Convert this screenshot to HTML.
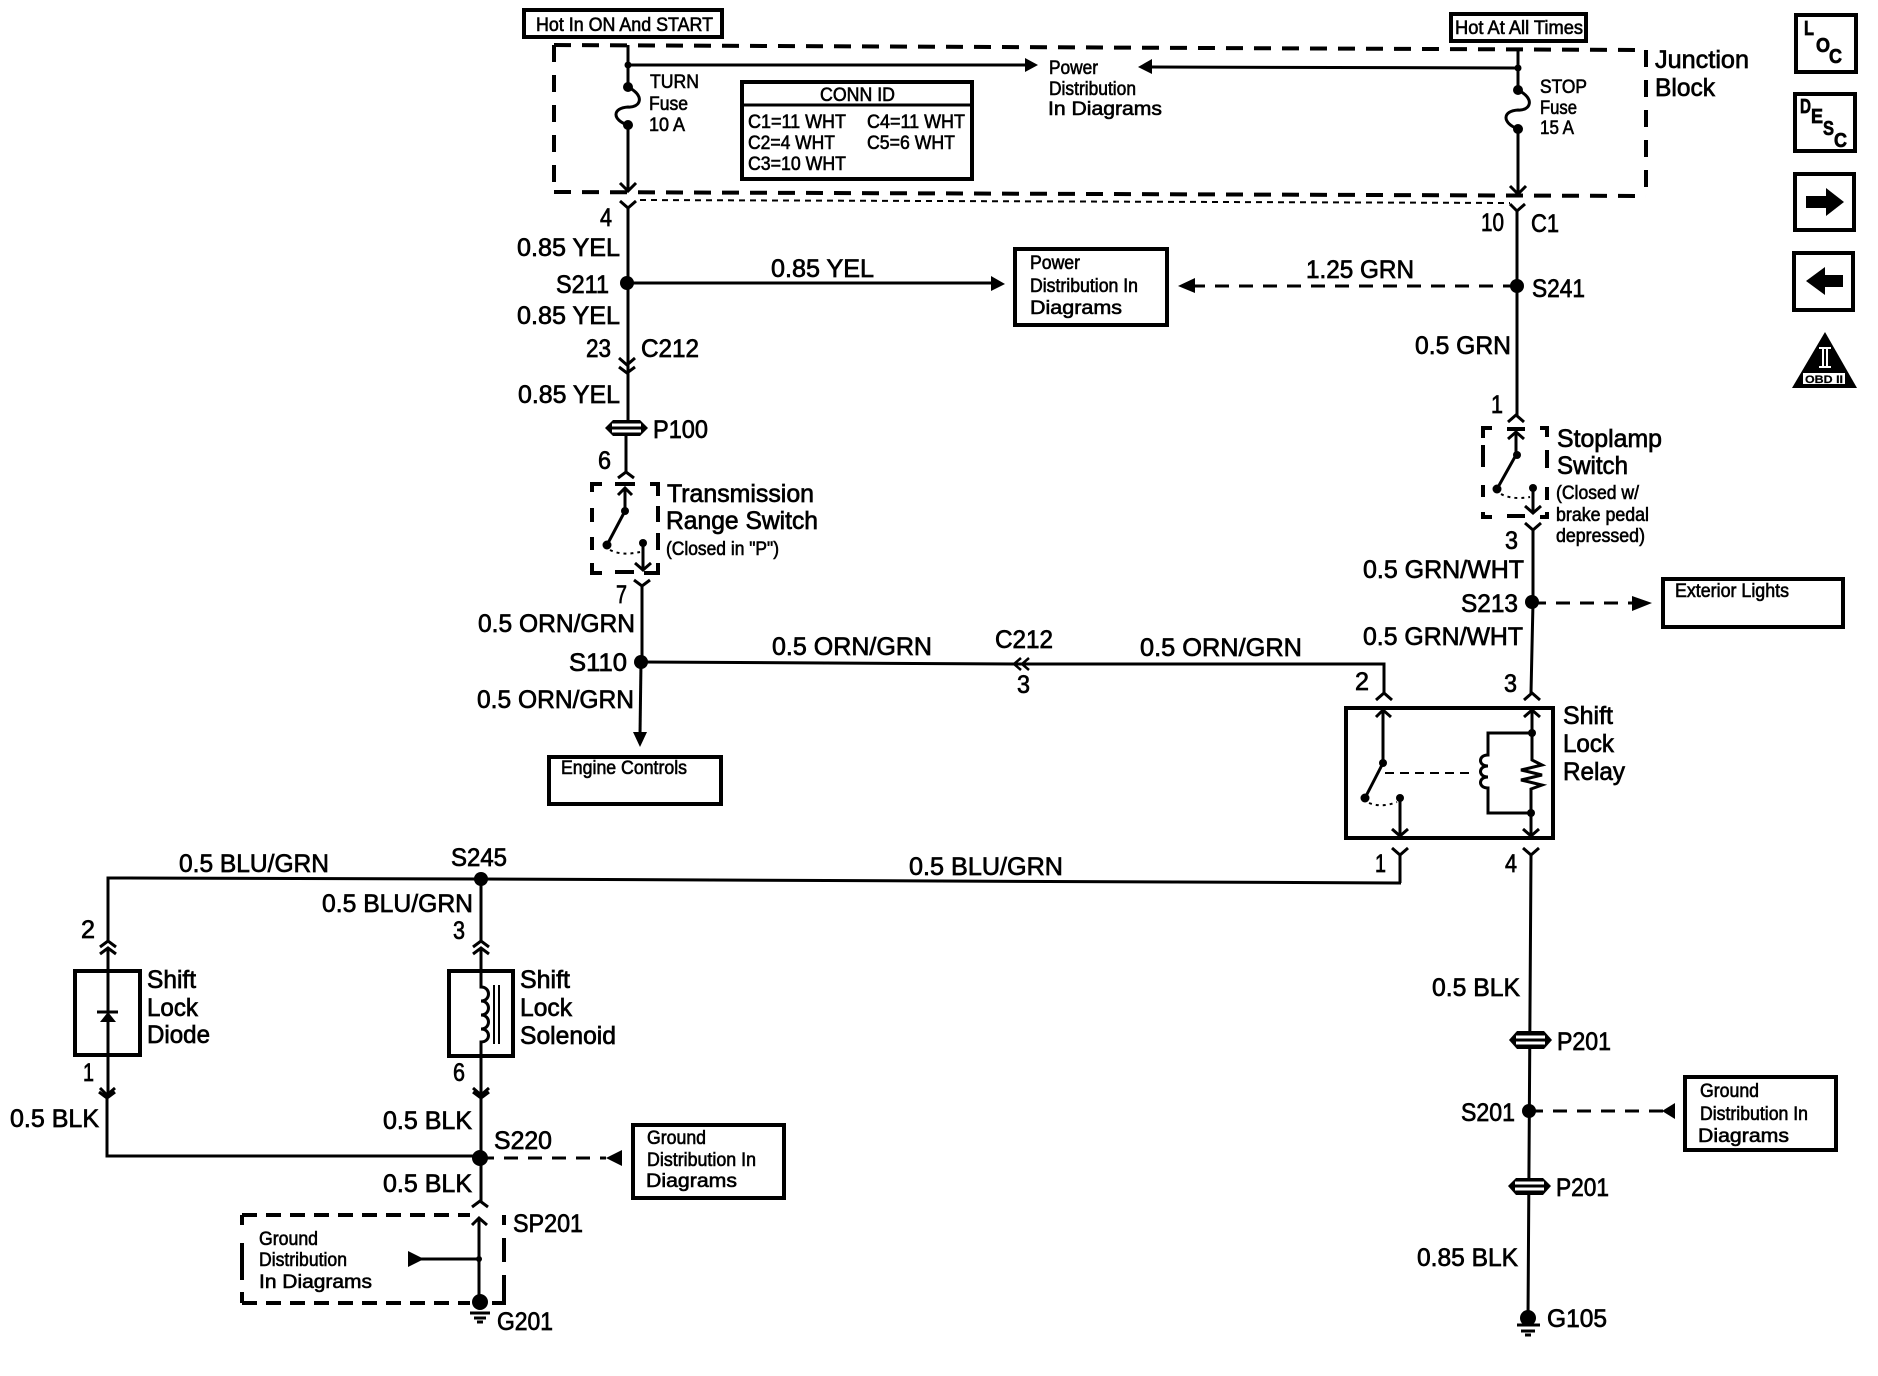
<!DOCTYPE html>
<html><head><meta charset="utf-8"><title>Shift Lock Wiring Diagram</title>
<style>
html,body{margin:0;padding:0;background:#fff}
svg{display:block}
text{font-family:"Liberation Sans",sans-serif;fill:#000;stroke:#000;stroke-width:.7}
.a{font-size:25px}.b{font-size:19px;stroke-width:.6}.c{font-size:20px;font-weight:bold}
.w{fill:none;stroke:#000;stroke-width:3}
.bx{fill:#fff;stroke:#000;stroke-width:4}
.d{fill:none;stroke:#000;stroke-width:4}
.k{fill:#000;stroke:none}
</style></head><body>
<svg xmlns="http://www.w3.org/2000/svg" width="1878" height="1376" viewBox="0 0 1878 1376">
<rect width="1878" height="1376" fill="#fff"/>

<!-- Junction block -->
<path class="d" stroke-dasharray="17 11" d="M554,45 L1646,50"/>
<path class="d" stroke-dasharray="17 11" d="M554,192 L1646,196"/>
<path class="d" stroke-dasharray="17 13" d="M554,45 V192"/>
<path class="d" stroke-dasharray="17 13" d="M1646,50 V196"/>
<path class="w" style="stroke-width:2" stroke-dasharray="6 5" d="M640,200 L1510,203"/>

<!-- Top boxes -->
<rect class="bx" x="524" y="10" width="198" height="27"/>
<text class="b" x="536" y="31" textLength="177" lengthAdjust="spacingAndGlyphs">Hot In ON And START</text>
<rect class="bx" x="1451" y="14" width="135" height="27"/>
<text class="b" x="1455" y="34" textLength="128" lengthAdjust="spacingAndGlyphs">Hot At All Times</text>

<!-- Fuses/wires -->
<path class="w" d="M628,45 V87 C646,96 640,108 628,107 C612,108 612,120 628,125 V190"/>
<path class="w" d="M628,65 H1028"/>
<polygon class="k" points="1025,58 1038,65 1025,72"/>
<circle class="k" cx="628" cy="65" r="3.5"/><circle class="k" cx="628" cy="87" r="5"/><circle class="k" cx="628" cy="125" r="5"/>
<path class="w" d="M620,183 L628,191 L636,183"/>
<path class="w" d="M620,201 L628,208 L636,201 M628,208 V420"/>
<path class="w" d="M1518,48 V90 C1536,99 1530,111 1518,110 C1502,111 1502,123 1518,129 V192"/>
<path class="w" d="M1518,68 L1150,67"/>
<polygon class="k" points="1152,59 1138,67 1152,74"/>
<circle class="k" cx="1518" cy="68" r="3.5"/><circle class="k" cx="1518" cy="90" r="5"/><circle class="k" cx="1518" cy="129" r="5"/>
<path class="w" d="M1510,186 L1518,194 L1526,186"/>
<path class="w" d="M1510,204 L1517,211 L1525,204 M1517,211 V416"/>

<text class="b" x="650" y="88" textLength="49" lengthAdjust="spacingAndGlyphs">TURN</text>
<text class="b" x="649" y="110" textLength="39" lengthAdjust="spacingAndGlyphs">Fuse</text>
<text class="b" x="649" y="131" textLength="36" lengthAdjust="spacingAndGlyphs">10 A</text>
<text class="b" x="1540" y="93" textLength="47" lengthAdjust="spacingAndGlyphs">STOP</text>
<text class="b" x="1540" y="114" textLength="37" lengthAdjust="spacingAndGlyphs">Fuse</text>
<text class="b" x="1540" y="134" textLength="34" lengthAdjust="spacingAndGlyphs">15 A</text>
<text class="b" x="1049" y="74" textLength="49" lengthAdjust="spacingAndGlyphs">Power</text>
<text class="b" x="1049" y="95" textLength="87" lengthAdjust="spacingAndGlyphs">Distribution</text>
<text class="b" x="1048" y="115" textLength="114" lengthAdjust="spacingAndGlyphs">In Diagrams</text>
<text class="a" x="1655" y="68" textLength="94" lengthAdjust="spacingAndGlyphs">Junction</text>
<text class="a" x="1655" y="96" textLength="60" lengthAdjust="spacingAndGlyphs">Block</text>

<!-- CONN ID -->
<rect class="bx" x="742" y="82" width="230" height="97"/>
<path class="w" d="M742,105 H972"/>
<text class="b" x="820" y="101" textLength="75" lengthAdjust="spacingAndGlyphs">CONN ID</text>
<text class="b" x="748" y="128" textLength="98" lengthAdjust="spacingAndGlyphs">C1=11 WHT</text>
<text class="b" x="867" y="128" textLength="98" lengthAdjust="spacingAndGlyphs">C4=11 WHT</text>
<text class="b" x="748" y="149" textLength="87" lengthAdjust="spacingAndGlyphs">C2=4 WHT</text>
<text class="b" x="867" y="149" textLength="88" lengthAdjust="spacingAndGlyphs">C5=6 WHT</text>
<text class="b" x="748" y="170" textLength="98" lengthAdjust="spacingAndGlyphs">C3=10 WHT</text>

<!-- Right icons -->
<rect class="bx" x="1796" y="15" width="60" height="57"/>
<text class="c" x="1804" y="35" textLength="10" lengthAdjust="spacingAndGlyphs">L</text>
<text class="c" x="1816" y="52" textLength="14" lengthAdjust="spacingAndGlyphs">O</text>
<text class="c" x="1829" y="63" textLength="13" lengthAdjust="spacingAndGlyphs">C</text>
<rect class="bx" x="1795" y="94" width="60" height="57"/>
<text class="c" x="1800" y="113" textLength="11" lengthAdjust="spacingAndGlyphs">D</text>
<text class="c" x="1811" y="123" textLength="12" lengthAdjust="spacingAndGlyphs">E</text>
<text class="c" x="1823" y="135" textLength="11" lengthAdjust="spacingAndGlyphs">S</text>
<text class="c" x="1834" y="147" textLength="13" lengthAdjust="spacingAndGlyphs">C</text>
<rect class="bx" x="1795" y="174" width="59" height="56"/>
<polygon class="k" points="1806,196 1826,196 1826,188 1844,202 1826,216 1826,208 1806,208"/>
<rect class="bx" x="1794" y="253" width="59" height="57"/>
<polygon class="k" points="1843,275 1825,275 1825,267 1806,281 1825,295 1825,287 1843,287"/>
<polygon class="k" points="1825,332 1857,388 1792,388"/>
<path d="M1819,348 H1831 M1819,367 H1831 M1823,348 V367 M1827,348 V367" stroke="#fff" stroke-width="2" fill="none"/>
<rect x="1803" y="373" width="42" height="11" fill="#fff"/>
<text x="1805" y="383" font-size="11" font-weight="bold" textLength="38" lengthAdjust="spacingAndGlyphs" style="stroke-width:.2">OBD II</text>

<!-- Left column labels -->
<text class="a" x="600" y="226" textLength="12" lengthAdjust="spacingAndGlyphs">4</text>
<text class="a" x="517" y="256" textLength="103" lengthAdjust="spacingAndGlyphs">0.85 YEL</text>
<text class="a" x="556" y="293" textLength="53" lengthAdjust="spacingAndGlyphs">S211</text>
<text class="a" x="517" y="324" textLength="103" lengthAdjust="spacingAndGlyphs">0.85 YEL</text>
<text class="a" x="771" y="277" textLength="103" lengthAdjust="spacingAndGlyphs">0.85 YEL</text>
<circle class="k" cx="627" cy="283" r="7"/>
<path class="w" d="M627,283 H995"/>
<polygon class="k" points="991,276 1005,284 991,291"/>

<rect class="bx" x="1015" y="249" width="152" height="76"/>
<text class="b" x="1030" y="269" textLength="50" lengthAdjust="spacingAndGlyphs">Power</text>
<text class="b" x="1030" y="292" textLength="108" lengthAdjust="spacingAndGlyphs">Distribution In</text>
<text class="b" x="1030" y="314" textLength="92" lengthAdjust="spacingAndGlyphs">Diagrams</text>

<path class="w" stroke-dasharray="14 10" d="M1517,286 H1190"/>
<polygon class="k" points="1195,278 1178,286 1195,293"/>
<text class="a" x="1306" y="278" textLength="108" lengthAdjust="spacingAndGlyphs">1.25 GRN</text>
<circle class="k" cx="1517" cy="286" r="7"/>
<text class="a" x="1481" y="231" textLength="23" lengthAdjust="spacingAndGlyphs">10</text>
<text class="a" x="1531" y="232" textLength="28" lengthAdjust="spacingAndGlyphs">C1</text>
<text class="a" x="1532" y="297" textLength="53" lengthAdjust="spacingAndGlyphs">S241</text>
<text class="a" x="1415" y="354" textLength="96" lengthAdjust="spacingAndGlyphs">0.5 GRN</text>
<text class="a" x="1491" y="413" textLength="12" lengthAdjust="spacingAndGlyphs">1</text>

<!-- C212 / P100 -->
<text class="a" x="586" y="357" textLength="25" lengthAdjust="spacingAndGlyphs">23</text>
<text class="a" x="641" y="357" textLength="58" lengthAdjust="spacingAndGlyphs">C212</text>
<path class="w" d="M619,358 L627,365 L635,358 M619,367 L627,373 L635,367"/>
<text class="a" x="518" y="403" textLength="102" lengthAdjust="spacingAndGlyphs">0.85 YEL</text>
<path class="k" d="M605,428 L613,420 H640 L648,428 L640,436 H613 Z"/>
<rect x="612" y="423.5" width="29" height="3" fill="#fff"/><rect x="612" y="429.5" width="29" height="3" fill="#fff"/>
<text class="a" x="653" y="438" textLength="55" lengthAdjust="spacingAndGlyphs">P100</text>
<text class="a" x="598" y="469" textLength="13" lengthAdjust="spacingAndGlyphs">6</text>

<!-- Transmission range switch -->
<path class="w" d="M626,436 V472 M618,478 L626,472 L634,478"/>
<path class="d" d="M592,492 V484 H602 M650,484 H658 V496 M592,508 V522 M592,537 V550 M592,563 V573 H602 M658,506 V522 M658,533 V550 M658,563 V573 H644 M615,572 H634"/>
<path class="d" d="M615,484 H635"/>
<path class="w" d="M618,495 L625,488 L632,495 M625,488 V511 L607,545"/>
<circle class="k" cx="625" cy="511" r="4"/><circle class="k" cx="607" cy="545" r="4.5"/><circle class="k" cx="643" cy="543" r="4"/>
<path class="w" style="stroke-width:2" stroke-dasharray="3 4" d="M610,550 Q622,556 640,552"/>
<path class="w" d="M643,543 V570 M635,563 L643,570 L651,563"/>
<path class="w" d="M634,580 L642,586 L650,580 M642,586 V662"/>
<text class="a" x="667" y="502" textLength="147" lengthAdjust="spacingAndGlyphs">Transmission</text>
<text class="a" x="666" y="529" textLength="152" lengthAdjust="spacingAndGlyphs">Range Switch</text>
<text class="b" x="666" y="555" textLength="113" lengthAdjust="spacingAndGlyphs">(Closed in "P")</text>
<text class="a" x="616" y="603" textLength="11" lengthAdjust="spacingAndGlyphs">7</text>
<text class="a" x="478" y="632" textLength="157" lengthAdjust="spacingAndGlyphs">0.5 ORN/GRN</text>
<text class="a" x="569" y="671" textLength="58" lengthAdjust="spacingAndGlyphs">S110</text>
<circle class="k" cx="641" cy="662" r="7"/>
<text class="a" x="477" y="708" textLength="157" lengthAdjust="spacingAndGlyphs">0.5 ORN/GRN</text>
<path class="w" d="M641,662 L640,735"/>
<polygon class="k" points="633,732 647,732 640,747"/>
<rect class="bx" x="549" y="757" width="172" height="47"/>
<text class="b" x="561" y="774" textLength="126" lengthAdjust="spacingAndGlyphs">Engine Controls</text>

<!-- ORN/GRN horizontal -->
<path class="w" d="M641,662 L1015,664 M1015,664 L1384,664 V693"/>
<path fill="none" stroke="#000" stroke-width="2.5" d="M1021,658 L1014,664 L1021,670 M1029,658 L1022,664 L1029,670"/>
<text class="a" x="772" y="655" textLength="160" lengthAdjust="spacingAndGlyphs">0.5 ORN/GRN</text>
<text class="a" x="995" y="648" textLength="58" lengthAdjust="spacingAndGlyphs">C212</text>
<text class="a" x="1017" y="693" textLength="13" lengthAdjust="spacingAndGlyphs">3</text>
<text class="a" x="1146" y="656" textLength="162" lengthAdjust="spacingAndGlyphs" transform="translate(-6,0)">0.5 ORN/GRN</text>

<!-- Stoplamp switch -->
<path class="w" d="M1508,422 L1516,415 L1524,422"/>
<path class="d" d="M1483,438 V428 H1492 M1540,428 H1547 V437 M1483,445 V467 M1483,485 V497 M1483,512 V517 H1492 M1547,450 V468 M1547,487 V500 M1547,512 V517 H1540 M1507,516 H1525"/>
<path class="d" d="M1507,429 H1525"/>
<path class="w" d="M1508,439 L1516,432 L1524,439 M1516,432 V455 L1497,489"/>
<circle class="k" cx="1517" cy="455" r="4"/><circle class="k" cx="1497" cy="489" r="4.5"/><circle class="k" cx="1533" cy="488" r="4"/>
<path class="w" style="stroke-width:2" stroke-dasharray="3 4" d="M1501,494 Q1512,500 1530,497"/>
<path class="w" d="M1533,488 V513 M1525,506 L1533,513 L1541,506"/>
<path class="w" d="M1525,523 L1533,530 L1541,523 M1533,530 V602 L1531,693"/>
<text class="a" x="1557" y="447" textLength="105" lengthAdjust="spacingAndGlyphs">Stoplamp</text>
<text class="a" x="1557" y="474" textLength="71" lengthAdjust="spacingAndGlyphs">Switch</text>
<text class="b" x="1556" y="499" textLength="83" lengthAdjust="spacingAndGlyphs">(Closed w/</text>
<text class="b" x="1556" y="521" textLength="93" lengthAdjust="spacingAndGlyphs">brake pedal</text>
<text class="b" x="1556" y="542" textLength="89" lengthAdjust="spacingAndGlyphs">depressed)</text>
<text class="a" x="1505" y="549" textLength="13" lengthAdjust="spacingAndGlyphs">3</text>
<text class="a" x="1363" y="578" textLength="161" lengthAdjust="spacingAndGlyphs">0.5 GRN/WHT</text>
<text class="a" x="1461" y="612" textLength="57" lengthAdjust="spacingAndGlyphs">S213</text>
<circle class="k" cx="1532" cy="602" r="7"/>
<path class="w" stroke-dasharray="14 10" d="M1532,603 H1632"/>
<polygon class="k" points="1632,596 1652,603 1632,611"/>
<rect class="bx" x="1663" y="579" width="180" height="48"/>
<text class="b" x="1675" y="597" textLength="114" lengthAdjust="spacingAndGlyphs">Exterior Lights</text>
<text class="a" x="1363" y="645" textLength="160" lengthAdjust="spacingAndGlyphs">0.5 GRN/WHT</text>
<text class="a" x="1355" y="690" textLength="14" lengthAdjust="spacingAndGlyphs">2</text>
<text class="a" x="1504" y="692" textLength="13" lengthAdjust="spacingAndGlyphs">3</text>

<!-- Relay -->
<rect x="1346" y="708" width="207" height="130" fill="#fff" stroke="#000" stroke-width="4"/>
<path class="w" d="M1376,700 L1384,693 L1392,700 M1524,700 L1532,693 L1540,700"/>
<path class="w" d="M1376,717 L1383,710 L1391,717 M1383,710 V763 L1365,798"/>
<circle class="k" cx="1383" cy="763" r="4"/><circle class="k" cx="1365" cy="798" r="4.5"/><circle class="k" cx="1400" cy="798" r="4"/>
<path class="w" style="stroke-width:2" stroke-dasharray="3 4" d="M1369,803 Q1382,808 1397,802"/>
<path class="w" d="M1400,798 V836 M1392,829 L1400,836 L1408,829"/>
<path class="w" d="M1524,717 L1532,710 L1540,717 M1532,710 V760 L1542,765 L1521,770 L1542,775 L1521,780 L1542,785 L1531,789 V836 M1523,829 L1531,836 L1539,829"/>
<path class="w" d="M1532,733 H1488 V755 C1478,755 1478,766 1488,766 C1478,766 1478,777 1488,777 C1478,777 1478,788 1488,788 V813 H1531"/>
<circle class="k" cx="1532" cy="733" r="4"/><circle class="k" cx="1531" cy="813" r="4"/>
<path class="w" style="stroke-width:2" stroke-dasharray="9 6" d="M1385,773 H1473"/>
<text class="a" x="1563" y="724" textLength="50" lengthAdjust="spacingAndGlyphs">Shift</text>
<text class="a" x="1563" y="752" textLength="51" lengthAdjust="spacingAndGlyphs">Lock</text>
<text class="a" x="1563" y="780" textLength="62" lengthAdjust="spacingAndGlyphs">Relay</text>
<path class="w" d="M1392,848 L1400,855 L1408,848 M1400,855 V883 M1523,848 L1531,855 L1539,848 M1531,855 L1528,1318"/>
<text class="a" x="1375" y="872" textLength="11" lengthAdjust="spacingAndGlyphs">1</text>
<text class="a" x="1505" y="872" textLength="12" lengthAdjust="spacingAndGlyphs">4</text>

<!-- BLU/GRN -->
<path class="w" d="M1401,883 L480,879 L108,878 V942"/>
<text class="a" x="179" y="872" textLength="150" lengthAdjust="spacingAndGlyphs">0.5 BLU/GRN</text>
<text class="a" x="451" y="866" textLength="56" lengthAdjust="spacingAndGlyphs">S245</text>
<text class="a" x="909" y="875" textLength="154" lengthAdjust="spacingAndGlyphs">0.5 BLU/GRN</text>
<text class="a" x="322" y="912" textLength="151" lengthAdjust="spacingAndGlyphs">0.5 BLU/GRN</text>
<circle class="k" cx="481" cy="879" r="7"/>
<path class="w" d="M481,879 V942"/>
<text class="a" x="81" y="938" textLength="14" lengthAdjust="spacingAndGlyphs">2</text>
<text class="a" x="453" y="939" textLength="12" lengthAdjust="spacingAndGlyphs">3</text>
<path class="w" d="M100,947 L108,941 L116,947 M100,954 L108,948 L116,954"/>
<path class="w" d="M473,947 L481,941 L489,947 M473,954 L481,948 L489,954"/>

<!-- Diode -->
<rect x="75" y="971" width="65" height="84" fill="#fff" stroke="#000" stroke-width="4"/>
<path class="w" d="M108,948 V1095"/>
<path class="w" d="M97,1012 H118"/>
<polygon class="k" points="108,1012 100,1022 116,1022"/>
<path class="w" d="M100,1088 L107,1095 L115,1088 M99,1092 L107,1098 L115,1092"/>
<text class="a" x="147" y="988" textLength="49" lengthAdjust="spacingAndGlyphs">Shift</text>
<text class="a" x="147" y="1016" textLength="51" lengthAdjust="spacingAndGlyphs">Lock</text>
<text class="a" x="147" y="1043" textLength="63" lengthAdjust="spacingAndGlyphs">Diode</text>
<text class="a" x="83" y="1081" textLength="11" lengthAdjust="spacingAndGlyphs">1</text>
<text class="a" x="10" y="1127" textLength="89" lengthAdjust="spacingAndGlyphs">0.5 BLK</text>

<!-- Solenoid -->
<rect x="449" y="971" width="64" height="85" fill="#fff" stroke="#000" stroke-width="4"/>
<path class="w" d="M481,948 V987 C491,987 491,1001 481,1001 C491,1001 491,1015 481,1015 C491,1015 491,1029 481,1029 C491,1029 491,1042 481,1042 V1095"/>
<path fill="none" stroke="#000" stroke-width="2" d="M494,985 V1044 M499,985 V1044"/>
<path class="w" d="M473,1088 L481,1095 L489,1088 M473,1092 L481,1098 L489,1092"/>
<text class="a" x="520" y="988" textLength="50" lengthAdjust="spacingAndGlyphs">Shift</text>
<text class="a" x="520" y="1016" textLength="52" lengthAdjust="spacingAndGlyphs">Lock</text>
<text class="a" x="520" y="1044" textLength="96" lengthAdjust="spacingAndGlyphs">Solenoid</text>
<text class="a" x="453" y="1081" textLength="12" lengthAdjust="spacingAndGlyphs">6</text>
<text class="a" x="383" y="1129" textLength="89" lengthAdjust="spacingAndGlyphs">0.5 BLK</text>
<text class="a" x="383" y="1192" textLength="89" lengthAdjust="spacingAndGlyphs">0.5 BLK</text>
<text class="a" x="494" y="1149" textLength="58" lengthAdjust="spacingAndGlyphs">S220</text>
<path class="w" d="M107,1098 V1156 H480 M481,1098 V1201"/>
<circle class="k" cx="480" cy="1158" r="8"/>
<path class="w" stroke-dasharray="14 10" d="M480,1158 H606"/>
<polygon class="k" points="622,1150 622,1166 606,1158"/>
<rect class="bx" x="633" y="1125" width="151" height="73"/>
<text class="b" x="647" y="1144" textLength="59" lengthAdjust="spacingAndGlyphs">Ground</text>
<text class="b" x="647" y="1166" textLength="109" lengthAdjust="spacingAndGlyphs">Distribution In</text>
<text class="b" x="646" y="1187" textLength="91" lengthAdjust="spacingAndGlyphs">Diagrams</text>

<!-- SP201 -->
<path class="w" d="M472,1207 L480,1201 L488,1207"/>
<path class="d" stroke-dasharray="15 9" d="M242,1215 H470 M242,1303 H470"/>
<path class="d" d="M242,1215 V1225 M242,1243 V1280 M242,1292 V1303 M504,1215 V1225 M504,1238 V1262 M504,1275 V1303 H492"/>
<path class="w" d="M472,1225 L479,1218 L487,1225 M479,1218 V1302 M479,1259 H420"/>
<polygon class="k" points="408,1251 424,1259 408,1267"/>
<circle class="k" cx="479" cy="1259" r="3"/>
<circle class="k" cx="480" cy="1302" r="8"/>
<path class="w" d="M470,1313 H490 M474,1318 H486 M477,1322 H483"/>
<text class="b" x="259" y="1245" textLength="59" lengthAdjust="spacingAndGlyphs">Ground</text>
<text class="b" x="259" y="1266" textLength="88" lengthAdjust="spacingAndGlyphs">Distribution</text>
<text class="b" x="259" y="1288" textLength="113" lengthAdjust="spacingAndGlyphs">In Diagrams</text>
<text class="a" x="513" y="1232" textLength="70" lengthAdjust="spacingAndGlyphs">SP201</text>
<text class="a" x="497" y="1330" textLength="56" lengthAdjust="spacingAndGlyphs">G201</text>

<!-- Right bottom -->
<text class="a" x="1432" y="996" textLength="88" lengthAdjust="spacingAndGlyphs">0.5 BLK</text>
<path class="k" d="M1509,1040 L1517,1031 H1544 L1552,1040 L1544,1049 H1517 Z"/>
<rect x="1516" y="1035.5" width="29" height="3" fill="#fff"/><rect x="1516" y="1041.5" width="29" height="3" fill="#fff"/>
<text class="a" x="1557" y="1050" textLength="54" lengthAdjust="spacingAndGlyphs">P201</text>
<circle class="k" cx="1529" cy="1111" r="7"/>
<text class="a" x="1461" y="1121" textLength="54" lengthAdjust="spacingAndGlyphs">S201</text>
<path class="w" stroke-dasharray="14 10" d="M1529,1111 H1665"/>
<polygon class="k" points="1675,1103 1675,1119 1662,1111"/>
<rect class="bx" x="1685" y="1077" width="151" height="73"/>
<text class="b" x="1700" y="1097" textLength="59" lengthAdjust="spacingAndGlyphs">Ground</text>
<text class="b" x="1700" y="1120" textLength="108" lengthAdjust="spacingAndGlyphs">Distribution In</text>
<text class="b" x="1698" y="1142" textLength="91" lengthAdjust="spacingAndGlyphs">Diagrams</text>
<path class="k" d="M1508,1186 L1516,1178 H1543 L1551,1186 L1543,1195 H1516 Z"/>
<rect x="1515" y="1181.5" width="29" height="3" fill="#fff"/><rect x="1515" y="1187.5" width="29" height="3" fill="#fff"/>
<text class="a" x="1556" y="1196" textLength="53" lengthAdjust="spacingAndGlyphs">P201</text>
<text class="a" x="1417" y="1266" textLength="101" lengthAdjust="spacingAndGlyphs">0.85 BLK</text>
<circle class="k" cx="1528" cy="1318" r="8"/>
<path class="w" d="M1517,1325 H1540 M1521,1331 H1535 M1525,1335 H1531"/>
<text class="a" x="1547" y="1327" textLength="60" lengthAdjust="spacingAndGlyphs">G105</text>
</svg>
</body></html>
